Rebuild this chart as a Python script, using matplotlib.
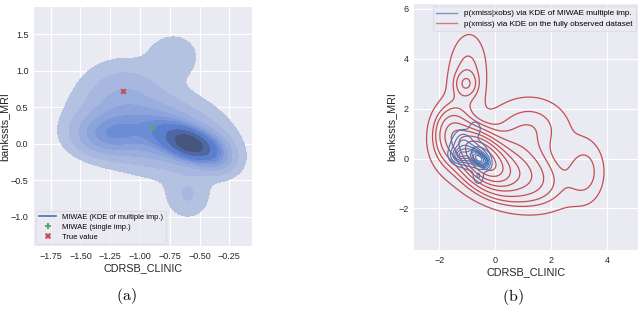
import numpy as np
import matplotlib
matplotlib.use("Agg")
import matplotlib.pyplot as plt
from matplotlib.lines import Line2D

# ---------------- data ----------------
# MIWAE multiple-imputation density (Gaussian mixture components)
miwae_cx = [-0.58, -0.62, -0.90, -0.88, -1.28, -1.15, -0.72, -0.60, -0.38]
miwae_cy = [0.00, 0.02, 0.15, 0.22, 0.12, 0.72, 1.20, -0.72, -0.12]
miwae_sx = [0.10, 0.17, 0.32, 0.36, 0.18, 0.21, 0.14, 0.12, 0.11]
miwae_sy = [0.11, 0.17, 0.28, 0.38, 0.18, 0.28, 0.20, 0.20, 0.17]
miwae_rho = [-0.40, -0.50, -0.30, -0.20, 0.00, 0.00, 0.00, 0.00, -0.20]
miwae_w = [0.11, 0.18, 0.22, 0.18, 0.10, 0.07, 0.026, 0.024, 0.045]

# fully observed dataset density
full_cx = [-0.50, 0.40, -1.00, -1.05, 3.20, 1.20, -1.60]
full_cy = [0.10, -0.50, 3.30, 3.00, -0.50, 1.20, 1.00]
full_sx = [0.55, 1.10, 0.45, 0.25, 0.45, 0.90, 0.40]
full_sy = [0.65, 0.80, 1.10, 0.30, 0.80, 0.80, 0.70]
full_rho = [-0.50, -0.35, 0.10, 0.00, 0.00, 0.00, 0.00]
full_w = [0.25, 0.30, 0.05, 0.0075, 0.035, 0.08, 0.06]

true_value = (-1.14, 0.72)
single_imp = (-0.89, 0.22)

xlabel = "CDRSB_CLINIC"
ylabel = "bankssts_MRI"
left_xticks = [-1.75, -1.50, -1.25, -1.00, -0.75, -0.50, -0.25]
left_yticks = [-1.0, -0.5, 0.0, 0.5, 1.0, 1.5]
right_xticks = [-2, 0, 2, 4]
right_yticks = [-2, 0, 2, 4, 6]

fill_colors = ['#b4c2e2', '#a7b7e0', '#9aaede', '#8ca3dc', '#7d98d9',
               '#6d8cd6', '#5b7fcc', '#4f67a4', '#47567c']
BLUE = '#4c72b0'
RED = '#c44e52'
GREEN = '#55a868'


def mixture(X, Y, cx, cy, sx, sy, rho, w):
    Z = np.zeros_like(X)
    for mx, my, a, b, r, k in zip(cx, cy, sx, sy, rho, w):
        dx = (X - mx) / a
        dy = (Y - my) / b
        q = (dx**2 - 2*r*dx*dy + dy**2) / (1 - r**2)
        Z += k * np.exp(-0.5*q) / (2*np.pi*a*b*np.sqrt(1 - r**2))
    return Z


def iso_levels(Z, props):
    vals = np.sort(Z.ravel())
    cum = np.cumsum(vals)
    cum /= cum[-1]
    lv = np.interp(props, cum, vals)
    lv[-1] = Z.max() * 1.0001
    return lv


props = np.linspace(0.05, 1, 10)

plt.rcParams['font.family'] = ['Liberation Sans', 'DejaVu Sans']
plt.rcParams['mathtext.fontset'] = 'cm'

fig = plt.figure(figsize=(6.4, 3.09), dpi=100)
W, H = 640, 309
axL = fig.add_axes([34/W, (H-246)/H, (252-34)/W, (246-7)/H])
axR = fig.add_axes([414/W, (H-250)/H, (638-414)/W, (250-4)/H])

for ax in (axL, axR):
    ax.set_facecolor('#eaeaf2')
    for s in ax.spines.values():
        s.set_visible(False)
    ax.grid(True, color='white', linewidth=0.8)
    ax.set_axisbelow(True)
    ax.tick_params(length=0, labelsize=6.5, pad=4, labelcolor='#262626')
    ax.set_xlabel(xlabel, fontsize=7.8, color='#262626', labelpad=2)
    ax.set_ylabel(ylabel, fontsize=7.8, color='#262626', labelpad=1)

# ----- left panel -----
gx = np.linspace(-2.6, 0.6, 400)
gy = np.linspace(-2.2, 2.6, 400)
XL, YL = np.meshgrid(gx, gy)
ZL = mixture(XL, YL, miwae_cx, miwae_cy, miwae_sx, miwae_sy, miwae_rho, miwae_w)
axL.contourf(XL, YL, ZL, levels=iso_levels(ZL, props), colors=fill_colors, zorder=1)
axL.scatter([single_imp[0]], [single_imp[1]], marker='P', s=22, color=GREEN,
            zorder=3, linewidths=0)
axL.scatter([true_value[0]], [true_value[1]], marker='X', s=20, color=RED,
            zorder=3, linewidths=0)
axL.set_xlim(-1.89, -0.06)
axL.set_ylim(-1.40, 1.87)
axL.set_xticks(left_xticks)
axL.set_yticks(left_yticks)
axL.set_xticklabels([f"{v:.2f}".replace('-', '\u2212') for v in left_xticks])
axL.set_yticklabels([f"{v:.1f}".replace('-', '\u2212') for v in left_yticks])
hL = [Line2D([], [], color=BLUE, lw=1.2),
      Line2D([], [], marker='P', color=GREEN, ls='none', markersize=5, markeredgewidth=0),
      Line2D([], [], marker='X', color=RED, ls='none', markersize=5, markeredgewidth=0)]
axL.legend(hL, ["MIWAE (KDE of multiple imp.)", "MIWAE (single imp.)", "True value"],
           loc='lower left', fontsize=5.4, frameon=True, facecolor='#eaeaf2',
           edgecolor='#dcdce6', framealpha=0.8, borderaxespad=0.3,
           handlelength=2.2, labelspacing=0.35, borderpad=0.4)

# ----- right panel -----
rx = np.linspace(-4, 6.5, 450)
ry = np.linspace(-5, 7.5, 450)
XR, YR = np.meshgrid(rx, ry)
ZF = mixture(XR, YR, full_cx, full_cy, full_sx, full_sy, full_rho, full_w)
axR.contour(XR, YR, ZF, levels=iso_levels(ZF, props)[:-1], colors=RED, linewidths=0.9)
ZB = mixture(XL, YL, miwae_cx, miwae_cy, miwae_sx, miwae_sy, miwae_rho, miwae_w)
axR.contour(XL, YL, ZB, levels=iso_levels(ZB, props)[:-1], colors=BLUE, linewidths=0.8)
axR.set_xlim(-2.9, 5.1)
axR.set_ylim(-3.67, 6.2)
axR.set_xticks(right_xticks)
axR.set_yticks(right_yticks)
axR.set_xticklabels([str(v).replace('-', '\u2212') for v in right_xticks])
axR.set_yticklabels([str(v).replace('-', '\u2212') for v in right_yticks])
hR = [Line2D([], [], color=BLUE, lw=1.0, alpha=0.7),
      Line2D([], [], color=RED, lw=1.0, alpha=0.7)]
axR.legend(hR, ["p(xmiss|xobs) via KDE of MIWAE multiple imp.",
                "p(xmiss) via KDE on the fully observed dataset"],
           loc='upper right', fontsize=5.9, frameon=True, facecolor='#eaeaf2',
           edgecolor='#dcdce6', framealpha=0.8, borderaxespad=0.3,
           handlelength=2.6, labelspacing=0.35, borderpad=0.4)

fig.text(126/W, 1 - 296/H, r"$\mathrm{(a)}$", fontsize=11.5, ha='center', va='center')
fig.text(513/W, 1 - 297/H, r"$\mathrm{(b)}$", fontsize=11.5, ha='center', va='center')

fig.savefig("out.png", dpi=100)
